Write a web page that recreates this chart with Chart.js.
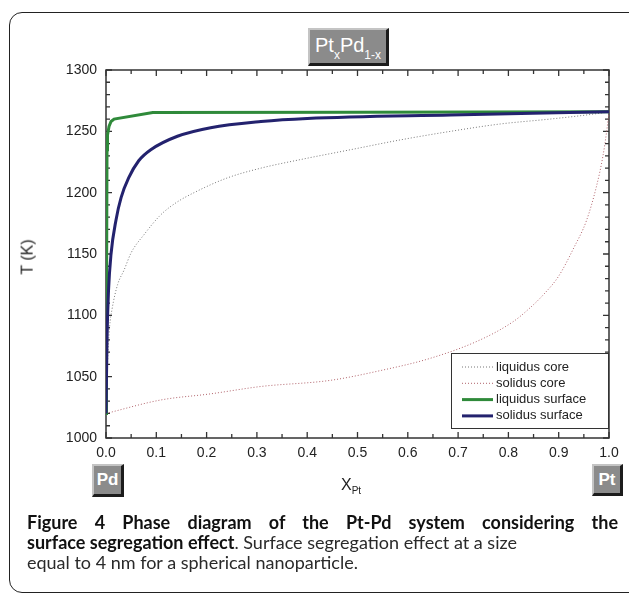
<!DOCTYPE html>
<html lang="en">

<head>
    <meta charset="UTF-8">
    <title>Pt-Pd phase diagram</title>
    <script src="https://cdn.jsdelivr.net/npm/chart.js"></script>
    <style>
        body {
            margin: 0;
            width: 629px;
            height: 594px;
            overflow: hidden;
            background: #fff;
            position: relative;
            font-family: Arial, "Liberation Sans", sans-serif;
        }

        #phaseChart {
            position: absolute;
            left: 0;
            top: 0;
        }

        .frame {
            position: absolute;
            left: 9px;
            top: 12px;
            width: 660px;
            height: 579px;
            border: 1.5px solid #222;
            border-radius: 13px;
        }

        .btn {
            position: absolute;
            background: #8b8b8b;
            color: #fff;
            font-weight: bold;
            border-top: 2px solid #c4c4c4;
            border-left: 2px solid #c4c4c4;
            border-right: 3px solid #1c1c1c;
            border-bottom: 3px solid #1c1c1c;
            box-sizing: border-box;
            text-align: center;
        }

        .btn sub {
            font-size: 12px;
            vertical-align: -7px;
            font-weight: normal;
        }

        .axis-title {
            position: absolute;
            color: #222;
            font-size: 16px;
        }

        .caption {
            position: absolute;
            left: 27px;
            font-family: Lato, sans-serif;
            font-size: 18px;
            color: #2a2a2a;
            white-space: nowrap;
            line-height: 20px;
        }

        .caption b {
            color: #111;
        }
    </style>
</head>

<body>
    <div class="frame"></div>
    <canvas id="phaseChart" width="629" height="594"></canvas>

    <div class="btn" style="left:308px; top:28px; width:81px; height:38px; font-size:20px; line-height:30px; font-weight:normal;">Pt<sub>x</sub>Pd<sub>1-x</sub></div>
    <div class="btn" style="left:92px; top:464px; width:32px; height:33px; font-size:17px; line-height:28px;">Pd</div>
    <div class="btn" style="left:592px; top:464px; width:31px; height:32px; font-size:17px; line-height:27px;">Pt</div>

    <div class="axis-title" style="left:341px; top:476px;">X<sub style="font-size:10px;">Pt</sub></div>
    <div class="axis-title" style="left:10px; top:248px; transform: rotate(-90deg);">T (K)</div>

    <div class="caption" style="top:512px; width:591px; white-space:normal; text-align:justify; text-align-last:justify;"><b>Figure 4 Phase diagram of the Pt-Pd system considering the</b></div>
    <div class="caption" style="top:532px;"><b>surface segregation effect</b>. Surface segregation effect at a size</div>
    <div class="caption" style="top:552px;">equal to 4 nm for a spherical nanoparticle.</div>

    <script>
        // values: composition x_Pt and temperature T (K)
        const seriesNames = ["liquidus core", "solidus core", "liquidus surface", "solidus surface"];

        const liquidusCoreX = [0, 0.003, 0.007, 0.012, 0.023, 0.036, 0.05, 0.076, 0.109, 0.14, 0.175, 0.241, 0.308,
            0.387, 0.486, 0.585, 0.685, 0.784, 0.883, 0.968, 1.0];
        const liquidusCoreT = [1020, 1060, 1090, 1105, 1125, 1137, 1151, 1166, 1182, 1192, 1200, 1212, 1220,
            1227, 1235, 1243, 1250, 1256, 1260, 1264, 1266];

        const solidusCoreX = [0, 0.109, 0.208, 0.308, 0.446, 0.546, 0.645, 0.744, 0.81, 0.84, 0.87, 0.9, 0.93,
            0.955, 0.975, 0.988, 0.996, 1.0];
        const solidusCoreT = [1020, 1031, 1036, 1042, 1047, 1055, 1065, 1080, 1095, 1105, 1117, 1132, 1155,
            1177, 1205, 1230, 1252, 1266];

        const liquidusSurfX = [0, 0.001, 0.002, 0.003, 0.006, 0.01, 0.016, 0.093, 0.5, 1.0];
        const liquidusSurfT = [1020, 1100, 1235, 1247, 1254, 1258, 1260, 1265.3, 1265.6, 1266];

        const solidusSurfX = [0, 0.002, 0.005, 0.01, 0.02, 0.03, 0.045, 0.065, 0.089, 0.142, 0.208, 0.308, 0.4, 0.685, 1.0];
        const solidusSurfT = [1020, 1080, 1120, 1150, 1178, 1196, 1212, 1226, 1235, 1246, 1253, 1258, 1260.5, 1263.4, 1266];

        const xTicks = [0.0, 0.1, 0.2, 0.3, 0.4, 0.5, 0.6, 0.7, 0.8, 0.9, 1.0];
        const yTicks = [1000, 1050, 1100, 1150, 1200, 1250, 1300];

        function toPoints(xs, ts) {
            return xs.map((x, i) => ({ x: x, y: ts[i] }));
        }

        // box + inward ticks on all four sides
        const frameTicks = {
            id: 'frameTicks',
            beforeDatasetsDraw(chart) {
                const ctx = chart.ctx;
                const a = chart.chartArea;
                const xs = chart.scales.x;
                const ys = chart.scales.y;
                ctx.save();
                ctx.strokeStyle = '#333';
                ctx.lineWidth = 1.5;
                ctx.strokeRect(a.left, a.top, a.right - a.left, a.bottom - a.top);
                ctx.lineWidth = 1.3;
                ctx.beginPath();
                for (let i = 0; i <= 20; i++) {
                    const v = i * 0.05;
                    const px = xs.getPixelForValue(v);
                    const len = i % 2 === 0 ? 6 : 4;
                    ctx.moveTo(px, a.bottom);
                    ctx.lineTo(px, a.bottom - len);
                    ctx.moveTo(px, a.top);
                    ctx.lineTo(px, a.top + len);
                }
                for (let t = 1000; t <= 1300; t += 10) {
                    const py = ys.getPixelForValue(t);
                    const len = t % 50 === 0 ? 6 : 4;
                    ctx.moveTo(a.left, py);
                    ctx.lineTo(a.left + len, py);
                    ctx.moveTo(a.right, py);
                    ctx.lineTo(a.right - len, py);
                }
                ctx.stroke();
                ctx.restore();
            }
        };

        // legend box in lower right of the plot
        const boxLegend = {
            id: 'boxLegend',
            afterDraw(chart) {
                const ctx = chart.ctx;
                const a = chart.chartArea;
                const w = 157, h = 75;
                const x0 = a.right - w - 1, y0 = a.bottom - h - 10;
                ctx.save();
                ctx.fillStyle = '#fff';
                ctx.fillRect(x0, y0, w, h);
                ctx.strokeStyle = '#333';
                ctx.lineWidth = 1;
                ctx.strokeRect(x0 + 0.5, y0 + 0.5, w, h);
                ctx.font = '13px Arial, "Liberation Sans", sans-serif';
                ctx.textBaseline = 'middle';
                chart.data.datasets.forEach((ds, i) => {
                    const y = y0 + 14 + i * 16.3;
                    ctx.strokeStyle = ds.borderColor;
                    ctx.lineWidth = ds.borderWidth;
                    ctx.setLineDash(ds.borderDash || []);
                    ctx.beginPath();
                    ctx.moveTo(x0 + 11, y);
                    ctx.lineTo(x0 + 42, y);
                    ctx.stroke();
                    ctx.setLineDash([]);
                    ctx.fillStyle = '#222';
                    ctx.fillText(ds.label, x0 + 45, y);
                });
                ctx.restore();
            }
        };

        const lineCommon = {
            showLine: true,
            pointRadius: 0,
            fill: false,
            cubicInterpolationMode: 'monotone'
        };

        new Chart(document.getElementById('phaseChart'), {
            type: 'scatter',
            data: {
                datasets: [
                    Object.assign({
                        label: seriesNames[0],
                        data: toPoints(liquidusCoreX, liquidusCoreT),
                        borderColor: '#777',
                        borderWidth: 1,
                        borderDash: [1, 2],
                        order: 3
                    }, lineCommon),
                    Object.assign({
                        label: seriesNames[1],
                        data: toPoints(solidusCoreX, solidusCoreT),
                        borderColor: '#b0626a',
                        borderWidth: 1,
                        borderDash: [1, 2],
                        order: 2
                    }, lineCommon),
                    Object.assign({}, lineCommon, {
                        label: seriesNames[2],
                        data: toPoints(liquidusSurfX, liquidusSurfT),
                        borderColor: '#2f8a3a',
                        borderWidth: 3,
                        cubicInterpolationMode: 'default',
                        tension: 0,
                        order: 1
                    }),
                    Object.assign({
                        label: seriesNames[3],
                        data: toPoints(solidusSurfX, solidusSurfT),
                        borderColor: '#23226e',
                        borderWidth: 3,
                        order: 0
                    }, lineCommon)
                ]
            },
            options: {
                responsive: false,
                animation: false,
                layout: {
                    padding: { left: 0, right: 20, top: 70, bottom: 0 }
                },
                plugins: {
                    legend: { display: false },
                    tooltip: { enabled: false }
                },
                scales: {
                    x: {
                        type: 'linear',
                        min: 0,
                        max: 1,
                        afterBuildTicks: (s) => { s.ticks = xTicks.map(v => ({ value: v })); },
                        afterFit: (s) => { s.height = 156; },
                        grid: { display: false, drawTicks: false },
                        border: { display: false },
                        ticks: {
                            padding: 7,
                            color: '#222',
                            font: { size: 14, family: 'Arial, "Liberation Sans", sans-serif' },
                            maxRotation: 0,
                            callback: (v) => Number(v).toFixed(1)
                        }
                    },
                    y: {
                        type: 'linear',
                        min: 1000,
                        max: 1300,
                        afterBuildTicks: (s) => { s.ticks = yTicks.map(v => ({ value: v })); },
                        afterFit: (s) => { s.width = 106; },
                        grid: { display: false, drawTicks: false },
                        border: { display: false },
                        ticks: {
                            padding: 9,
                            color: '#222',
                            font: { size: 14, family: 'Arial, "Liberation Sans", sans-serif' },
                            callback: (v) => String(v)
                        }
                    }
                }
            },
            plugins: [frameTicks, boxLegend]
        });
    </script>
</body>

</html>
